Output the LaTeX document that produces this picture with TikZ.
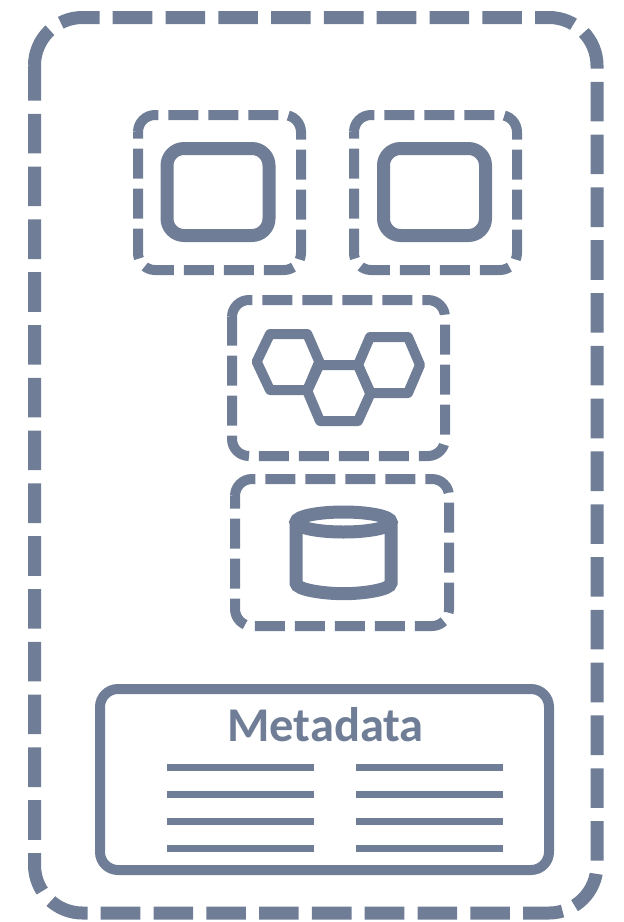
\documentclass[tikz,border=0pt]{standalone}
\usepackage{fontspec}
\setmainfont{Carlito}
\usepackage{tikz}
\definecolor{slategrey}{HTML}{6F7E96}

\tikzset{
   outerbox/.style={draw=slategrey, line width=13pt, dash pattern=on 39.6pt off 13.2pt},
   groupbox/.style={draw=slategrey, line width=10pt, dash pattern=on 30pt off 10pt},
   solidbox/.style={draw=slategrey, line width=13pt, rounded corners=17pt},
   metabox/.style={draw=slategrey, line width=10pt, rounded corners=18pt},
   hexline/.style={draw=slategrey, line width=10pt, line join=round},
   cylline/.style={draw=slategrey, line width=13pt},
   listline/.style={draw=slategrey, line width=6.7pt},
}

% style, left, top, right, bottom, radius
\newcommand{\seambox}[6]{
   \draw[#1] (#2,#3+#6) arc (180:270:#6) -- (#4-#6,#3) arc (270:360:#6)
      -- (#4,#5-#6) arc (0:90:#6) -- (#2+#6,#5) arc (90:180:#6) -- cycle;
}

\begin{document}
\begin{tikzpicture}[x=1pt, y=-1pt]
   \useasboundingbox (0,0) rectangle (624,922);
   \seambox{outerbox}{34.5}{17.5}{597}{913}{48}
   \seambox{groupbox}{138}{115}{301}{270}{17}
   \seambox{groupbox}{354}{115}{517}{270}{17}
   \seambox{groupbox}{232}{300}{445}{456}{17}
   \seambox{groupbox}{235}{479}{449}{626}{17}
   \node[solidbox, minimum width=102pt, minimum height=87pt] (comp a) at (218,192) {};
   \node[solidbox, minimum width=102pt, minimum height=87pt] (comp b) at (434.5,192) {};

   \draw[hexline] (256.7,361.7) -- (270,334) -- (307.3,334) -- (319.3,361.7) -- (307.3,390) -- (270,390) -- cycle;
   \draw[hexline] (307.3,391) -- (319.3,365) -- (358,365) -- (370.7,393) -- (358,421) -- (320,421) -- cycle;
   \draw[hexline] (358,365) -- (370,337) -- (408,337) -- (420,365) -- (408,393) -- (370,393) -- cycle;

   \draw[cylline] (343.5,522) ellipse [x radius=47.5, y radius=10];
   \draw[cylline] (296,522) -- (296,583) .. controls (296,590) and (325,593.7) .. (343.5,593.7) .. controls (362,593.7) and (391,590) .. (391,583) -- (391,522);

   \node[metabox, minimum width=449pt, minimum height=181pt] (meta) at (324.5,779.5) {};
   \node[text=slategrey, font=\fontsize{48.5}{58}\selectfont\bfseries, anchor=base, inner sep=0pt] (metatitle) at (325.5,741.7) {Metadata};
   \foreach \y in {767.3,794.7,821.7,848.3} {
      \draw[listline] (166.7,\y) -- (314,\y);
      \draw[listline] (356,\y) -- (503,\y);
   }
\end{tikzpicture}
\end{document}
